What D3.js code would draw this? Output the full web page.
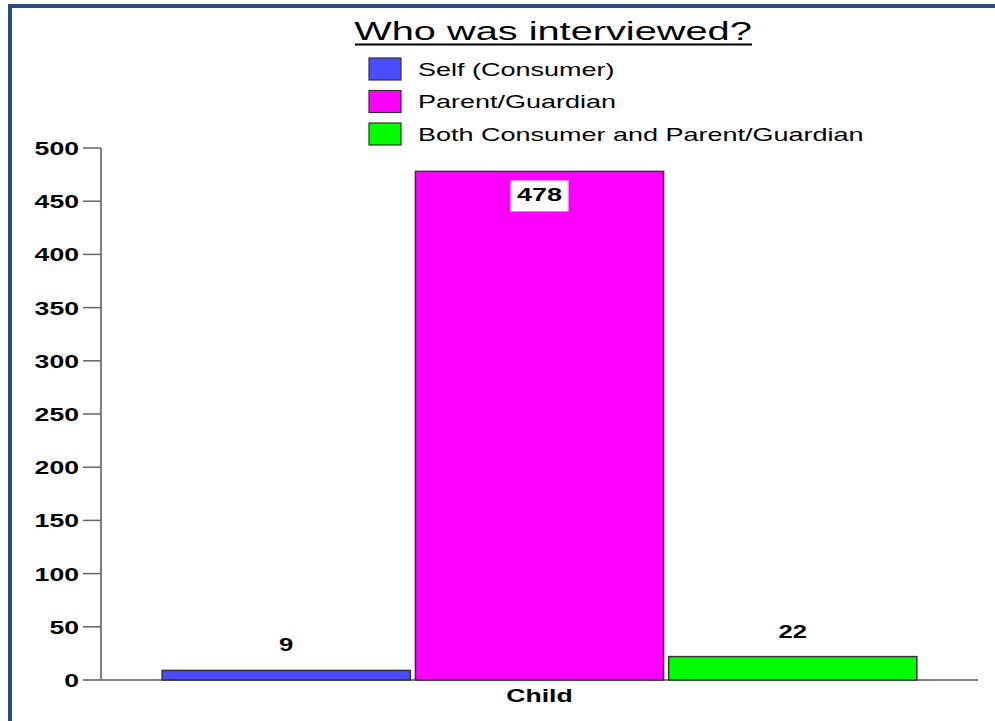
<!DOCTYPE html>
<html>
<head>
<meta charset="utf-8">
<script src="https://cdn.jsdelivr.net/npm/d3@7"></script>
<style>
  body { margin: 0; background: #fff; }
  text { font-family: "Liberation Sans", Arial, sans-serif; fill: #000; }
</style>
</head>
<body>
<svg id="chart"></svg>
<script>
const categories = ['Child'];
const seriesNames = ['Self (Consumer)', 'Parent/Guardian', 'Both Consumer and Parent/Guardian'];
const seriesValues = [9, 478, 22];
const seriesColors = ['#4b4bff', '#ff00ff', '#00ff00'];
const yTicks = [0, 50, 100, 150, 200, 250, 300, 350, 400, 450, 500];

const width = 995, height = 721;
const svg = d3.select('#chart').attr('width', width).attr('height', height);

// frame (only top and left edges show)
svg.append('path').attr('d', 'M10,721 V6 H995').attr('fill', 'none')
  .attr('stroke', '#254e82').attr('stroke-width', 4);

const y = d3.scaleLinear().domain([0, 500]).range([680, 148]);
const x0 = d3.scaleBand().domain(categories).range([101, 978]).paddingInner(0).paddingOuter(0.081);
const x1 = d3.scaleBand().domain(seriesNames).range([0, x0.bandwidth()]).paddingInner(0.02);

// title
svg.append('text').attr('transform', 'translate(553,40) scale(1.59,1)')
  .attr('text-anchor', 'middle').style('font-size', '25px').text('Who was interviewed?');
svg.append('line').attr('x1', 355).attr('x2', 752).attr('y1', 44.5).attr('y2', 44.5)
  .attr('stroke', '#000').attr('stroke-width', 2);

// legend
const legend = svg.append('g');
seriesNames.forEach((name, i) => {
  const ly = 58 + i * 32.5;
  legend.append('rect').attr('x', 369).attr('y', ly).attr('width', 32).attr('height', 22)
    .attr('fill', seriesColors[i]).attr('stroke', '#333').attr('stroke-width', 1.2);
  legend.append('text').attr('transform', `translate(418,${ly + 17.5}) scale(1.5,1)`)
    .style('font-size', '18px').text(name);
});

// y axis
const yAxis = svg.append('g');
yAxis.append('line').attr('x1', 101).attr('x2', 101).attr('y1', y(500)).attr('y2', y(0))
  .attr('stroke', '#808080').attr('stroke-width', 2);
yTicks.forEach(t => {
  yAxis.append('line').attr('x1', 83).attr('x2', 101).attr('y1', y(t)).attr('y2', y(t))
    .attr('stroke', '#666').attr('stroke-width', 1.5);
  yAxis.append('text').attr('transform', `translate(79,${y(t) + 7}) scale(1.4,1)`)
    .attr('text-anchor', 'end').style('font-size', '19px').style('font-weight', 'bold').text(t);
});

// x axis
svg.append('line').attr('x1', 83).attr('x2', 978).attr('y1', y(0)).attr('y2', y(0))
  .attr('stroke', '#808080').attr('stroke-width', 2);
categories.forEach(c => {
  svg.append('text').attr('transform', `translate(${x0(c) + x0.bandwidth() / 2},702) scale(1.4,1)`)
    .attr('text-anchor', 'middle').style('font-size', '19px').style('font-weight', 'bold').text(c);
});

// bars
const group = svg.append('g').attr('transform', `translate(${x0('Child')},0)`);
seriesNames.forEach((name, i) => {
  const v = seriesValues[i];
  group.append('rect').attr('x', x1(name)).attr('y', y(v))
    .attr('width', x1.bandwidth()).attr('height', y(0) - y(v))
    .attr('fill', seriesColors[i]).attr('stroke', '#333').attr('stroke-width', 1.5);
  const cx = x1(name) + x1.bandwidth() / 2;
  if (y(v) - 40 < y(500)) {
    // no room above: label inside with white box
    group.append('rect').attr('x', cx - 29).attr('y', y(v) + 9).attr('width', 58).attr('height', 31)
      .attr('fill', '#fff');
    group.append('text').attr('transform', `translate(${cx},${y(v) + 30}) scale(1.42,1)`)
      .attr('text-anchor', 'middle').style('font-size', '19px').style('font-weight', 'bold').text(v);
  } else {
    group.append('text').attr('transform', `translate(${cx},${y(v) - 19}) scale(1.35,1)`)
      .attr('text-anchor', 'middle').style('font-size', '19px').style('font-weight', 'bold').text(v);
  }
});
</script>
</body>
</html>
